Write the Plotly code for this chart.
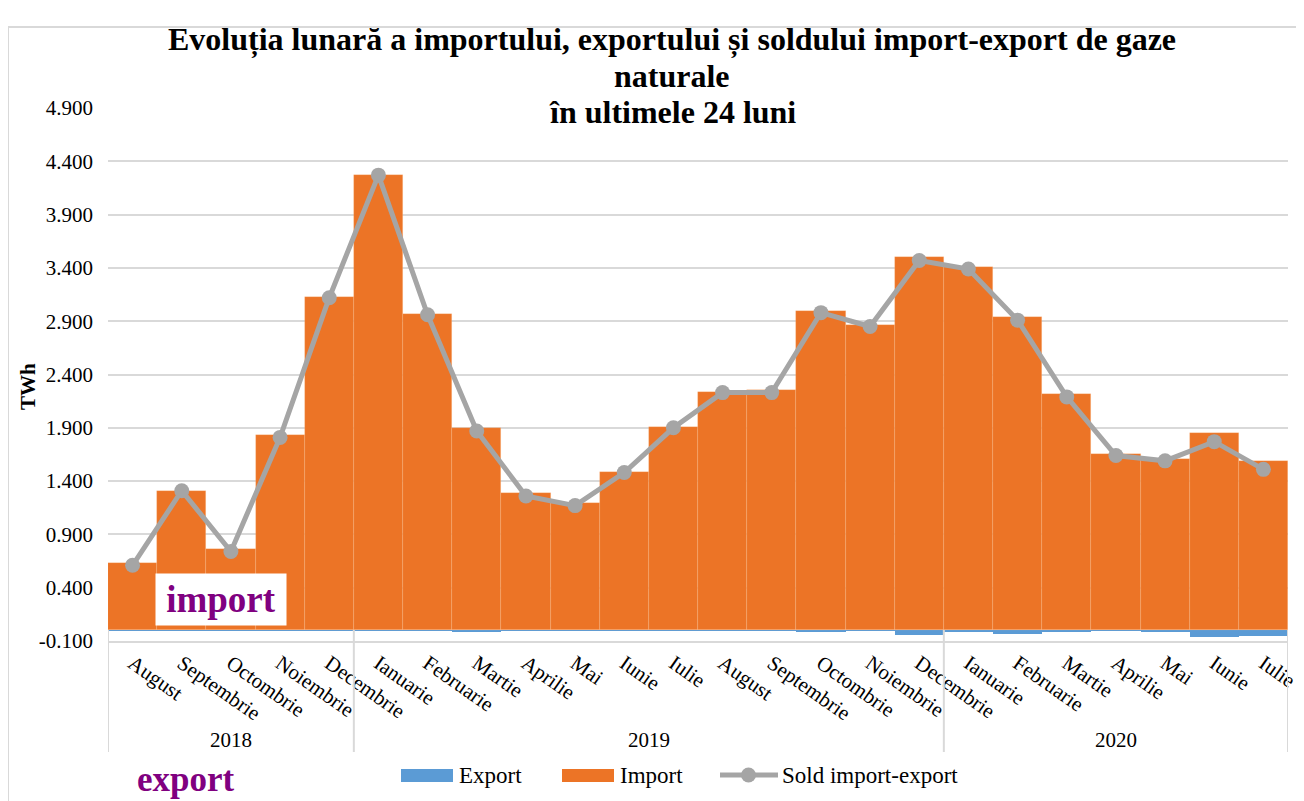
import plotly.graph_objects as go

luni = ["August", "Septembrie", "Octombrie", "Noiembrie", "Decembrie",
        "Ianuarie", "Februarie", "Martie", "Aprilie", "Mai", "Iunie", "Iulie",
        "August", "Septembrie", "Octombrie", "Noiembrie", "Decembrie",
        "Ianuarie", "Februarie", "Martie", "Aprilie", "Mai", "Iunie", "Iulie"]
ani = ["2018", "2019", "2020"]
luni_pe_an = [5, 12, 7]

import_twh = [0.63, 1.31, 0.76, 1.83, 3.13, 4.27, 2.97, 1.90, 1.29, 1.19, 1.49, 1.91,
              2.24, 2.25, 3.00, 2.86, 3.50, 3.41, 2.94, 2.22, 1.65, 1.61, 1.85, 1.59]
export_twh = [-0.005, -0.005, -0.005, -0.005, -0.005, -0.005, -0.005, -0.02, -0.005, -0.005, -0.005, -0.005,
              -0.005, -0.005, -0.02, -0.005, -0.04, -0.01, -0.03, -0.02, -0.005, -0.02, -0.06, -0.05]
sold_twh = [0.61, 1.31, 0.74, 1.81, 3.12, 4.27, 2.96, 1.87, 1.26, 1.17, 1.48, 1.90,
            2.23, 2.23, 2.98, 2.85, 3.47, 3.39, 2.91, 2.19, 1.64, 1.59, 1.77, 1.51]

titlu = ["Evoluția lunară a importului, exportului și soldului import-export de gaze",
         "naturale", "în ultimele 24 luni"]

x = list(range(len(luni)))
serif = "Liberation Serif, Times New Roman, serif"
purple = "#800080"
gri = "#A5A5A5"
albastru = "#5B9BD5"
portocaliu = "#EC7426"

fig = go.Figure()
fig.add_trace(go.Bar(x=x, y=export_twh, name="Export", width=1, showlegend=False,
                     marker=dict(color=albastru, line=dict(width=0))))
fig.add_trace(go.Bar(x=x, y=import_twh, name="Import", width=1, showlegend=False,
                     marker=dict(color=portocaliu, line=dict(width=0.6, color="rgba(255,200,160,0.35)"))))
fig.add_trace(go.Scatter(x=x, y=sold_twh, name="Sold import-export", mode="lines+markers",
                         showlegend=False,
                         line=dict(color=gri, width=5),
                         marker=dict(color=gri, size=15)))

# page has an 8px body margin; positions below are screen pixels
# plot area on screen: x 108..1288, y 108..641
W, H = 1180.0, 533.0
def px_x(p):
    return (p - 108) / W
def px_y(p):
    return (641 - p) / H

shapes = []
# separators of the year row
edges = [0]
for n in luni_pe_an:
    edges.append(edges[-1] + n)
for e in edges:
    shapes.append(dict(type="line", xref="x", yref="paper", x0=e - 0.5, x1=e - 0.5,
                       y0=px_y(630), y1=px_y(752), line=dict(color="#D9D9D9", width=2)))
# outer frame
shapes.append(dict(type="rect", xref="paper", yref="paper", x0=px_x(8), x1=px_x(1302),
                   y0=px_y(805), y1=px_y(27), line=dict(color="#D9D9D9", width=2), layer="below"))

# custom legend
shapes.append(dict(type="rect", xref="paper", yref="paper", x0=px_x(401), x1=px_x(453),
                   y0=px_y(782), y1=px_y(769), fillcolor=albastru, line=dict(width=0)))
shapes.append(dict(type="rect", xref="paper", yref="paper", x0=px_x(562), x1=px_x(614),
                   y0=px_y(782), y1=px_y(769), fillcolor=portocaliu, line=dict(width=0)))
shapes.append(dict(type="line", xref="paper", yref="paper", x0=px_x(720), x1=px_x(778),
                   y0=px_y(775), y1=px_y(775), line=dict(color=gri, width=5)))
shapes.append(dict(type="circle", xref="paper", yref="paper", x0=px_x(741), x1=px_x(756),
                   y0=px_y(782.5), y1=px_y(767.5), fillcolor=gri, line=dict(width=0)))

annotations = []
for yt, linie in zip([40, 76, 112], titlu):
    annotations.append(dict(x=px_x(672), y=px_y(yt), xref="paper", yref="paper",
                            text="<b>" + linie + "</b>", showarrow=False,
                            xanchor="center", yanchor="middle",
                            font=dict(family=serif, size=32, color="black")))
for xt, txt in [(457, "Export"), (618, "Import"), (780, "Sold import-export")]:
    annotations.append(dict(x=px_x(xt), y=px_y(775), xref="paper", yref="paper", text=txt,
                            xanchor="left", yanchor="middle", showarrow=False,
                            font=dict(family=serif, size=23, color="black")))

start = 0
for an, n in zip(ani, luni_pe_an):
    annotations.append(dict(x=start + n / 2 - 0.5, y=px_y(740), xref="x", yref="paper",
                            text=an, showarrow=False, xanchor="center", yanchor="middle",
                            font=dict(family=serif, size=21, color="black")))
    start += n
annotations.append(dict(x=px_x(221), y=px_y(599), xref="paper", yref="paper", text="<b>import</b>",
                        showarrow=False, bgcolor="white", width=128, height=49,
                        xanchor="center", yanchor="middle",
                        font=dict(family=serif, size=37, color=purple)))
annotations.append(dict(x=px_x(186), y=px_y(779), xref="paper", yref="paper", text="<b>export</b>",
                        showarrow=False, xanchor="center", yanchor="middle",
                        font=dict(family=serif, size=35, color=purple)))
annotations.append(dict(x=px_x(28), y=px_y(387), xref="paper", yref="paper", text="<b>TWh</b>",
                        showarrow=False, textangle=-90, xanchor="center", yanchor="middle",
                        font=dict(family=serif, size=21, color="black")))

fig.update_layout(
    width=1304, height=801,
    paper_bgcolor="white", plot_bgcolor="white",
    margin=dict(l=100, r=24, t=100, b=168, autoexpand=False),
    barmode="relative", bargap=0,
    font=dict(family=serif, color="black"),
    showlegend=False,
    shapes=shapes, annotations=annotations,
)
fig.update_xaxes(range=[-0.5, len(luni) - 0.5], tickvals=x, ticktext=luni, tickangle=35,
                 tickfont=dict(family=serif, size=21, color="black"), automargin=False,
                 showgrid=False, zeroline=False, showline=True, linecolor="#D9D9D9", linewidth=2,
                 ticks="")
fig.update_yaxes(range=[-0.1, 4.9], tickvals=[-0.1 + 0.5 * i for i in range(11)],
                 ticktext=["-0.100", "0.400", "0.900", "1.400", "1.900", "2.400", "2.900",
                           "3.400", "3.900", "4.400", "4.900"],
                 tickfont=dict(family=serif, size=21, color="black"), automargin=False,
                 ticklabelstandoff=14,
                 showgrid=True, gridcolor="#D9D9D9", gridwidth=2, zeroline=False)

fig.write_html("out.html")
